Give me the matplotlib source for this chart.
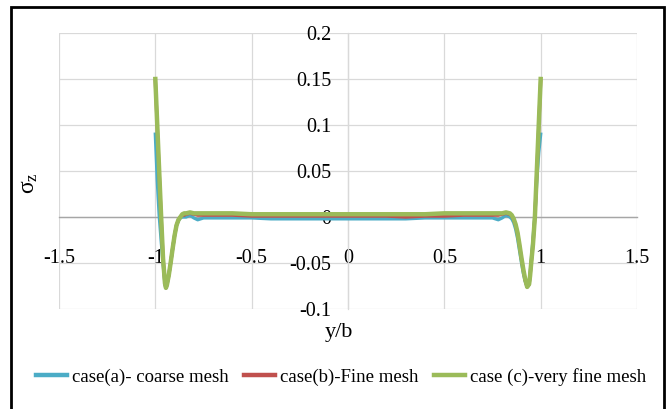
import matplotlib
matplotlib.use("Agg")
import matplotlib.pyplot as plt
from matplotlib.patches import Rectangle

# ---------------- data ----------------
y_over_b = [-1.0, -0.99, -0.98, -0.97, -0.96, -0.95, -0.945, -0.94, -0.93, -0.92,
            -0.91, -0.90, -0.89, -0.88, -0.87, -0.86, -0.85, -0.84, -0.82, -0.80,
            -0.78, -0.75, -0.70, -0.60, -0.50, -0.40, -0.30, -0.20, -0.10, 0.0,
            0.10, 0.20, 0.30, 0.40, 0.50, 0.60, 0.70, 0.75, 0.78, 0.80,
            0.82, 0.84, 0.85, 0.86, 0.87, 0.88, 0.89, 0.90, 0.91, 0.92,
            0.93, 0.94, 0.945, 0.95, 0.96, 0.97, 0.98, 0.99, 1.0]

case_a = [0.090, 0.040, 0.002, -0.025, -0.050, -0.073, -0.077, -0.074, -0.063, -0.049,
          -0.034, -0.020, -0.009, -0.004, -0.001, 0.000, 0.000, 0.000, 0.002, -0.001,
          -0.003, -0.001, -0.001, -0.001, -0.001, -0.002, -0.002, -0.002, -0.002, -0.002,
          -0.002, -0.002, -0.002, -0.001, -0.001, -0.001, -0.001, -0.001, -0.003, -0.001,
          0.002, 0.000, -0.002, -0.006, -0.013, -0.023, -0.036, -0.049, -0.061, -0.070,
          -0.076, -0.073, -0.063, -0.050, -0.025, 0.002, 0.040, 0.070, 0.090]

case_b = [0.148, 0.098, 0.048, 0.000, -0.045, -0.072, -0.077, -0.074, -0.063, -0.049,
          -0.034, -0.020, -0.009, -0.003, 0.000, 0.002, 0.002, 0.003, 0.004, 0.003,
          0.002, 0.002, 0.002, 0.002, 0.001, 0.001, 0.001, 0.001, 0.001, 0.001,
          0.001, 0.001, 0.000, 0.001, 0.001, 0.002, 0.002, 0.002, 0.002, 0.003,
          0.004, 0.003, 0.001, -0.003, -0.009, -0.018, -0.031, -0.045, -0.058, -0.069,
          -0.076, -0.073, -0.064, -0.052, -0.030, 0.000, 0.048, 0.098, 0.148]

case_c = [0.150, 0.100, 0.050, 0.001, -0.045, -0.072, -0.077, -0.074, -0.063, -0.049,
          -0.034, -0.020, -0.009, -0.003, 0.000, 0.003, 0.004, 0.004, 0.005, 0.004,
          0.004, 0.004, 0.004, 0.004, 0.003, 0.003, 0.003, 0.003, 0.003, 0.003,
          0.003, 0.003, 0.003, 0.003, 0.004, 0.004, 0.004, 0.004, 0.004, 0.004,
          0.005, 0.004, 0.002, -0.002, -0.008, -0.017, -0.030, -0.044, -0.057, -0.068,
          -0.076, -0.073, -0.064, -0.052, -0.030, 0.000, 0.050, 0.100, 0.150]

series_labels = ["case(a)- coarse mesh", "case(b)-Fine mesh", "case (c)-very fine mesh"]
x_ticks = [-1.5, -1.0, -0.5, 0.0, 0.5, 1.0, 1.5]
x_tick_labels = ["-1.5", "-1", "-0.5", "0", "0.5", "1", "1.5"]
y_ticks = [-0.1, -0.05, 0.0, 0.05, 0.1, 0.15, 0.2]
y_tick_labels = ["-0.1", "-0.05", "0", "0.05", "0.1", "0.15", "0.2"]

# ---------------- figure ----------------
plt.rcParams['font.family'] = ['Liberation Serif', 'DejaVu Serif']
W, H = 667, 409
fig = plt.figure(figsize=(W / 100, H / 100), dpi=100)
ax = fig.add_axes([59 / W, 1 - 309 / H, (637 - 59) / W, (309 - 33) / H])

colors = ["#4bacc6", "#c0504d", "#9bbb59"]
ax.plot(y_over_b, case_a, color=colors[0], lw=2.4, label=series_labels[0], zorder=3,
        solid_joinstyle='round')
ax.plot(y_over_b, case_b, color=colors[1], lw=2.4, label=series_labels[1], zorder=4,
        solid_joinstyle='round')
ax.plot(y_over_b, case_c, color=colors[2], lw=3.2, label=series_labels[2], zorder=5,
        solid_joinstyle='round')

ax.set_xlim(-1.5, 1.5)
ax.set_ylim(-0.1, 0.2)
ax.set_xticks(x_ticks)
ax.set_xticklabels(x_tick_labels)
ax.set_yticks(y_ticks)
ax.set_yticklabels(y_tick_labels)
ax.grid(True, color="#d9d9d9", lw=0.9, zorder=0)
ax.set_axisbelow(True)

for s in ["top", "right"]:
    ax.spines[s].set_visible(False)
ax.spines["left"].set_position(("data", 0))
ax.spines["left"].set_color("#d9d9d9")
ax.spines["left"].set_linewidth(0.9)
ax.spines["bottom"].set_position(("data", 0))
ax.spines["bottom"].set_color("#a6a6a6")
ax.spines["bottom"].set_linewidth(1.0)

ax.tick_params(axis="x", length=0, pad=23, labelsize=14.5, colors="black")
ax.tick_params(axis="y", length=0, pad=12, labelsize=14.5, colors="black")

fig.text(30 / W, 1 - 183 / H, r"$\mathregular{\sigma_z}$", rotation=90,
         ha="center", va="center", fontsize=17)
fig.text(339 / W, 1 - 333 / H, "y/b", ha="center", va="center", fontsize=16)

leg = fig.legend(loc="center", bbox_to_anchor=(0.5 * (32 + 650) / W, 1 - 377 / H),
                 ncol=3, frameon=False, fontsize=13.5, handlelength=1.65,
                 handletextpad=0.25, columnspacing=0.85)
for line in leg.get_lines():
    line.set_linewidth(3.2)

fig.patches.append(Rectangle((11 / W, -0.05), (664 - 11) / W, 1.05 - 7 / H,
                             transform=fig.transFigure, fill=False,
                             edgecolor="black", lw=2, clip_on=False))

fig.savefig("out.png", dpi=100)
